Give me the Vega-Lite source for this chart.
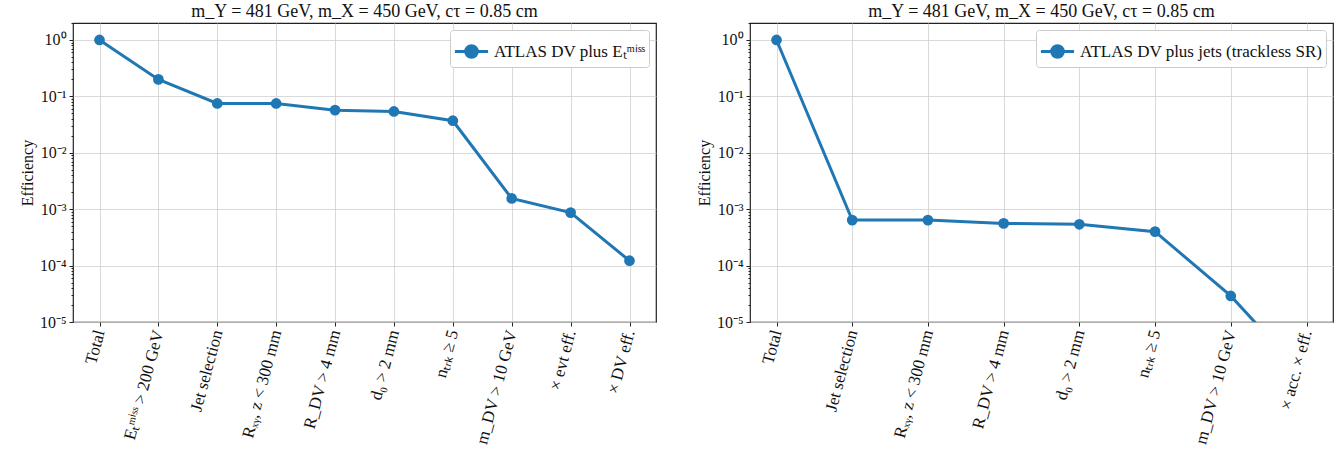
{
  "$schema": "https://vega.github.io/schema/vega-lite/v6.json",
  "padding": {"left": 18, "top": 2, "right": 2, "bottom": 2},
  "background": "white",
  "config": {
    "font": "Liberation Serif",
    "view": {"stroke": "#222", "strokeWidth": 1.2},
    "axis": {"domain": false, "gridColor": "#d0d0d0", "gridWidth": 0.8, "tickColor": "#222", "labelColor": "#111", "labelFont": "Liberation Serif", "titleFont": "Liberation Serif", "titleFontWeight": "normal", "titleColor": "#111"},
    "title": {"font": "Liberation Serif", "fontWeight": "normal", "fontSize": 18, "color": "#111", "offset": -6},
    "legend": {"orient": "top-right", "offset": 7, "strokeColor": "#cccccc", "fillColor": "white", "padding": 3, "cornerRadius": 3, "title": null, "labelLimit": 400,
      "symbolType": "M -1 0 L 1 0 M -0.35 0 A 0.35 0.35 0 1 0 0.35 0 A 0.35 0.35 0 1 0 -0.35 0",
      "symbolSize": 1100, "symbolStrokeWidth": 3, "symbolFillColor": "#1f77b4", "symbolStrokeColor": "#1f77b4",
      "labelFont": "Liberation Serif", "labelFontSize": 17, "labelColor": "#111"}
  },
  "datasets": {
    "left": [
      {"cut": "Total", "eff": 1.0, "series": "ATLAS DV plus Eₜᵐⁱˢˢ"},
      {"cut": "Eₜᵐⁱˢˢ > 200 GeV", "eff": 0.2, "series": "ATLAS DV plus Eₜᵐⁱˢˢ"},
      {"cut": "Jet selection", "eff": 0.075, "series": "ATLAS DV plus Eₜᵐⁱˢˢ"},
      {"cut": "Rₓᵧ, z < 300 mm", "eff": 0.075, "series": "ATLAS DV plus Eₜᵐⁱˢˢ"},
      {"cut": "R_DV > 4 mm", "eff": 0.057, "series": "ATLAS DV plus Eₜᵐⁱˢˢ"},
      {"cut": "d₀ > 2 mm", "eff": 0.054, "series": "ATLAS DV plus Eₜᵐⁱˢˢ"},
      {"cut": "nₜᵣₖ ≥ 5", "eff": 0.037, "series": "ATLAS DV plus Eₜᵐⁱˢˢ"},
      {"cut": "m_DV > 10 GeV", "eff": 0.00155, "series": "ATLAS DV plus Eₜᵐⁱˢˢ"},
      {"cut": "× evt eff.", "eff": 0.00087, "series": "ATLAS DV plus Eₜᵐⁱˢˢ"},
      {"cut": "× DV eff.", "eff": 0.000122, "series": "ATLAS DV plus Eₜᵐⁱˢˢ"}
    ],
    "right": [
      {"cut": "Total", "eff": 1.0, "series": "ATLAS DV plus jets (trackless SR)"},
      {"cut": "Jet selection", "eff": 0.00064, "series": "ATLAS DV plus jets (trackless SR)"},
      {"cut": "Rₓᵧ, z < 300 mm", "eff": 0.00064, "series": "ATLAS DV plus jets (trackless SR)"},
      {"cut": "R_DV > 4 mm", "eff": 0.00056, "series": "ATLAS DV plus jets (trackless SR)"},
      {"cut": "d₀ > 2 mm", "eff": 0.00054, "series": "ATLAS DV plus jets (trackless SR)"},
      {"cut": "nₜᵣₖ ≥ 5", "eff": 0.0004, "series": "ATLAS DV plus jets (trackless SR)"},
      {"cut": "m_DV > 10 GeV", "eff": 0.000029, "series": "ATLAS DV plus jets (trackless SR)"},
      {"cut": "× acc. × eff.", "eff": 0.000001, "series": "ATLAS DV plus jets (trackless SR)"}
    ]
  },
  "hconcat": [
    {
      "width": 583, "height": 299,
      "title": {"text": "m_Y = 481 GeV, m_X = 450 GeV, cτ = 0.85 cm"},
      "data": {"name": "left"},
      "encoding": {
        "x": {"field": "cut", "type": "ordinal", "sort": null, "scale": {"type": "point", "padding": 0.45},
          "axis": {"title": null, "labelAngle": -75, "labelFontSize": 17, "grid": true, "tickSize": 4, "labelPadding": 4}},
        "y": {"field": "eff", "type": "quantitative", "scale": {"type": "log", "domain": [0.00001, 2], "nice": false},
          "axis": {"title": "Efficiency", "titleFontSize": 16, "labelFontSize": 16, "labelOverlap": false, "labelPadding": 3,
            "values": [0.00001,0.00002,0.00003,0.00004,0.00005,0.00006,0.00007,0.00008,0.00009,0.0001,0.0002,0.0003,0.0004,0.0005,0.0006,0.0007,0.0008,0.0009,0.001,0.002,0.003,0.004,0.005,0.006,0.007,0.008,0.009,0.01,0.02,0.03,0.04,0.05,0.06,0.07,0.08,0.09,0.1,0.2,0.3,0.4,0.5,0.6,0.7,0.8,0.9,1,2],
            "labelExpr": "abs(log(datum.value)/LN10 - round(log(datum.value)/LN10)) < 0.001 ? '10' + (datum.value >= 0.5 ? '⁰' : '⁻' + ['', '¹', '²', '³', '⁴', '⁵'][round(-log(datum.value)/LN10)]) : ''",
            "tickSize": {"condition": {"test": "abs(log(datum.value)/LN10 - round(log(datum.value)/LN10)) < 0.001", "value": 4}, "value": 2},
            "gridOpacity": {"condition": {"test": "abs(log(datum.value)/LN10 - round(log(datum.value)/LN10)) < 0.001", "value": 1}, "value": 0}}},
        "color": {"field": "series", "type": "nominal", "scale": {"range": ["#1f77b4"]}}
      },
      "layer": [
        {"mark": {"type": "line", "strokeWidth": 3, "clip": true}},
        {"mark": {"type": "point", "filled": true, "size": 115, "opacity": 1, "clip": true}}
      ]
    },
    {
      "width": 583, "height": 299,
      "title": {"text": "m_Y = 481 GeV, m_X = 450 GeV, cτ = 0.85 cm"},
      "data": {"name": "right"},
      "encoding": {
        "x": {"field": "cut", "type": "ordinal", "sort": null, "scale": {"type": "point", "padding": 0.35},
          "axis": {"title": null, "labelAngle": -75, "labelFontSize": 17, "grid": true, "tickSize": 4, "labelPadding": 4}},
        "y": {"field": "eff", "type": "quantitative", "scale": {"type": "log", "domain": [0.00001, 2], "nice": false},
          "axis": {"title": "Efficiency", "titleFontSize": 16, "labelFontSize": 16, "labelOverlap": false, "labelPadding": 3,
            "values": [0.00001,0.00002,0.00003,0.00004,0.00005,0.00006,0.00007,0.00008,0.00009,0.0001,0.0002,0.0003,0.0004,0.0005,0.0006,0.0007,0.0008,0.0009,0.001,0.002,0.003,0.004,0.005,0.006,0.007,0.008,0.009,0.01,0.02,0.03,0.04,0.05,0.06,0.07,0.08,0.09,0.1,0.2,0.3,0.4,0.5,0.6,0.7,0.8,0.9,1,2],
            "labelExpr": "abs(log(datum.value)/LN10 - round(log(datum.value)/LN10)) < 0.001 ? '10' + (datum.value >= 0.5 ? '⁰' : '⁻' + ['', '¹', '²', '³', '⁴', '⁵'][round(-log(datum.value)/LN10)]) : ''",
            "tickSize": {"condition": {"test": "abs(log(datum.value)/LN10 - round(log(datum.value)/LN10)) < 0.001", "value": 4}, "value": 2},
            "gridOpacity": {"condition": {"test": "abs(log(datum.value)/LN10 - round(log(datum.value)/LN10)) < 0.001", "value": 1}, "value": 0}}},
        "color": {"field": "series", "type": "nominal", "scale": {"range": ["#1f77b4"]}}
      },
      "layer": [
        {"mark": {"type": "line", "strokeWidth": 3, "clip": true}},
        {"mark": {"type": "point", "filled": true, "size": 115, "opacity": 1, "clip": true}}
      ]
    }
  ],
  "spacing": 38,
  "resolve": {"scale": {"color": "independent", "x": "independent", "y": "independent"}, "legend": {"color": "independent"}}
}
